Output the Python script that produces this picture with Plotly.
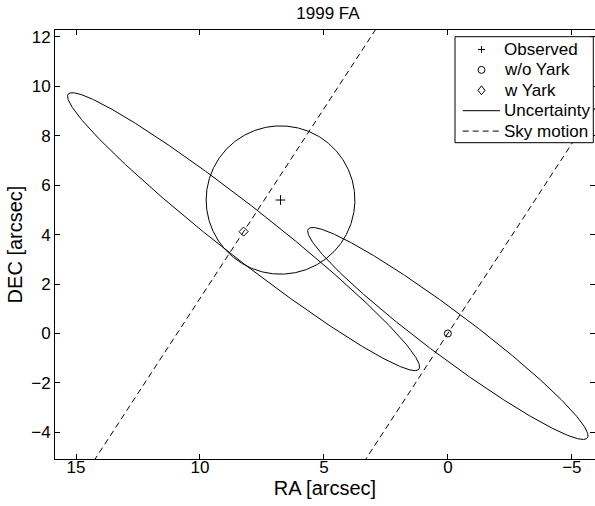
import numpy as np
import plotly.graph_objects as go

# ---- data (arcsec) ----
obs_ra = [6.75]
obs_dec = [5.40]
noyark_ra = [0.0]
noyark_dec = [0.0]
yark_ra = [8.24]
yark_dec = [4.12]

# uncertainty regions: centre, semi-major, semi-minor, orientation (deg, RA->DEC)
unc_ra = [6.75, 0.0, 8.24]
unc_dec = [5.40, 0.0, 4.12]
unc_a = [3.0, 7.04, 9.0]
unc_b = [3.0, 0.91, 1.02]
unc_ang = [0.0, 36.9, 38.2]

# sky motion lines: through these points with this slope (dDEC/dRA)
sky_ra = [8.24, 0.0]
sky_dec = [4.12, 0.0]
sky_slope = [-1.536, -1.536]

xticks = [15, 10, 5, 0, -5]
yticks = [-4, -2, 0, 2, 4, 6, 8, 10, 12]

legend_labels = ["Observed", "w/o Yark", "w Yark", "Uncertainty", "Sky motion"]

FONT = "Liberation Sans, Arial, Helvetica, sans-serif"
FS = 17
W, H = 595, 506
ML, MR, MT, MB = 55, 0, 30, 47
PW, PH = W - ML - MR, H - MT - MB
DASH = "6px,4px"

fig = go.Figure()

fig.add_trace(go.Scatter(x=obs_ra, y=obs_dec, mode="markers", name="Observed", showlegend=False,
                         marker=dict(symbol="cross-thin-open", size=7, color="black",
                                     line=dict(width=1, color="black"))))
fig.add_trace(go.Scatter(x=noyark_ra, y=noyark_dec, mode="markers", name="w/o Yark", showlegend=False,
                         marker=dict(symbol="circle-open", size=7, color="black",
                                     line=dict(width=1, color="black"))))
fig.add_trace(go.Scatter(x=yark_ra, y=yark_dec, mode="markers", name="w Yark", showlegend=False,
                         marker=dict(symbol="diamond-open", size=7, color="black",
                                     line=dict(width=1, color="black"))))

t = np.linspace(0, 2 * np.pi, 721)
for i in range(len(unc_ra)):
    phi = np.deg2rad(unc_ang[i])
    ex = unc_ra[i] + unc_a[i] * np.cos(t) * np.cos(phi) - unc_b[i] * np.sin(t) * np.sin(phi)
    ey = unc_dec[i] + unc_a[i] * np.cos(t) * np.sin(phi) + unc_b[i] * np.sin(t) * np.cos(phi)
    fig.add_trace(go.Scatter(x=ex, y=ey, mode="lines", name="Uncertainty", showlegend=False,
                             line=dict(color="black", width=1)))

s = np.array([-30.0, 30.0])
for i in range(len(sky_ra)):
    d = np.array([1.0, sky_slope[i]]) / np.hypot(1.0, sky_slope[i])
    fig.add_trace(go.Scatter(x=sky_ra[i] + s * d[0], y=sky_dec[i] + s * d[1],
                             mode="lines", name="Sky motion", showlegend=False,
                             line=dict(color="black", width=1, dash=DASH)))


# ---- legend box (pixel layout, converted to paper coords) ----
def px(xp):
    return (xp - ML) / PW


def py(yp):
    return (H - MB - yp) / PH


shapes = []
annotations = []
box = dict(x0=455, x1=593.3, y0=36.7, y1=142.7)
shapes.append(dict(type="rect", xref="paper", yref="paper", layer="above",
                   x0=px(box["x0"]), x1=px(box["x1"]), y0=py(box["y1"]), y1=py(box["y0"]),
                   fillcolor="white", line=dict(color="black", width=1)))
row0, rowgap = 49.5, 20.4
symx = 481.5
lx0, lx1 = 462.7, 500
for k, lab in enumerate(legend_labels):
    yc = row0 + k * rowgap
    if k == 0:
        shapes.append(dict(type="line", xref="paper", yref="paper", layer="above",
                           x0=px(symx - 3.5), x1=px(symx + 3.5), y0=py(yc), y1=py(yc),
                           line=dict(color="black", width=1)))
        shapes.append(dict(type="line", xref="paper", yref="paper", layer="above",
                           x0=px(symx), x1=px(symx), y0=py(yc - 3.5), y1=py(yc + 3.5),
                           line=dict(color="black", width=1)))
    elif k == 1:
        shapes.append(dict(type="circle", xref="paper", yref="paper", layer="above",
                           x0=px(symx - 3.5), x1=px(symx + 3.5), y0=py(yc + 3.5), y1=py(yc - 3.5),
                           line=dict(color="black", width=1)))
    elif k == 2:
        path = "M{:.5f},{:.5f} L{:.5f},{:.5f} L{:.5f},{:.5f} L{:.5f},{:.5f} Z".format(
            px(symx), py(yc - 4.5), px(symx + 3.5), py(yc),
            px(symx), py(yc + 4.5), px(symx - 3.5), py(yc))
        shapes.append(dict(type="path", xref="paper", yref="paper", layer="above",
                           path=path, line=dict(color="black", width=1)))
    else:
        shapes.append(dict(type="line", xref="paper", yref="paper", layer="above",
                           x0=px(lx0), x1=px(lx1), y0=py(yc), y1=py(yc),
                           line=dict(color="black", width=1,
                                     dash=("solid" if k == 3 else DASH))))
    annotations.append(dict(text=lab, xref="paper", yref="paper", x=px(501.5), y=py(yc),
                            xanchor="left", yanchor="middle", showarrow=False,
                            font=dict(family=FONT, size=FS, color="black")))

fig.update_layout(
    width=W, height=H,
    margin=dict(l=ML, r=MR, t=MT, b=MB, autoexpand=False),
    paper_bgcolor="white", plot_bgcolor="white",
    font=dict(family=FONT, size=FS, color="black"),
    title=dict(text="1999 FA", x=328 / W, xanchor="center", y=0.975, yanchor="middle",
               font=dict(family=FONT, size=FS, color="black")),
    showlegend=False,
    hovermode=False,
    shapes=shapes,
    annotations=annotations,
)
fig.update_xaxes(range=[15.847, -5.935], tickvals=xticks, automargin=False,
                 ticks="inside", ticklen=5, tickcolor="black", ticklabelstandoff=-7,
                 showline=True, linecolor="black", linewidth=1, mirror="ticks",
                 showgrid=False, zeroline=False,
                 title=dict(text="RA [arcsec]", standoff=2))
fig.update_yaxes(range=[-5.08, 12.28], tickvals=yticks, automargin=False,
                 ticks="inside", ticklen=5, tickcolor="black",
                 showline=True, linecolor="black", linewidth=1, mirror="ticks",
                 showgrid=False, zeroline=False,
                 title=dict(text="DEC [arcsec]", standoff=3))

# remove the browser's default page margin so the figure fills the window exactly
fig.write_html("out.html", config={"displayModeBar": False},
               post_script="document.body.style.margin='0';document.body.style.overflow='hidden';")
